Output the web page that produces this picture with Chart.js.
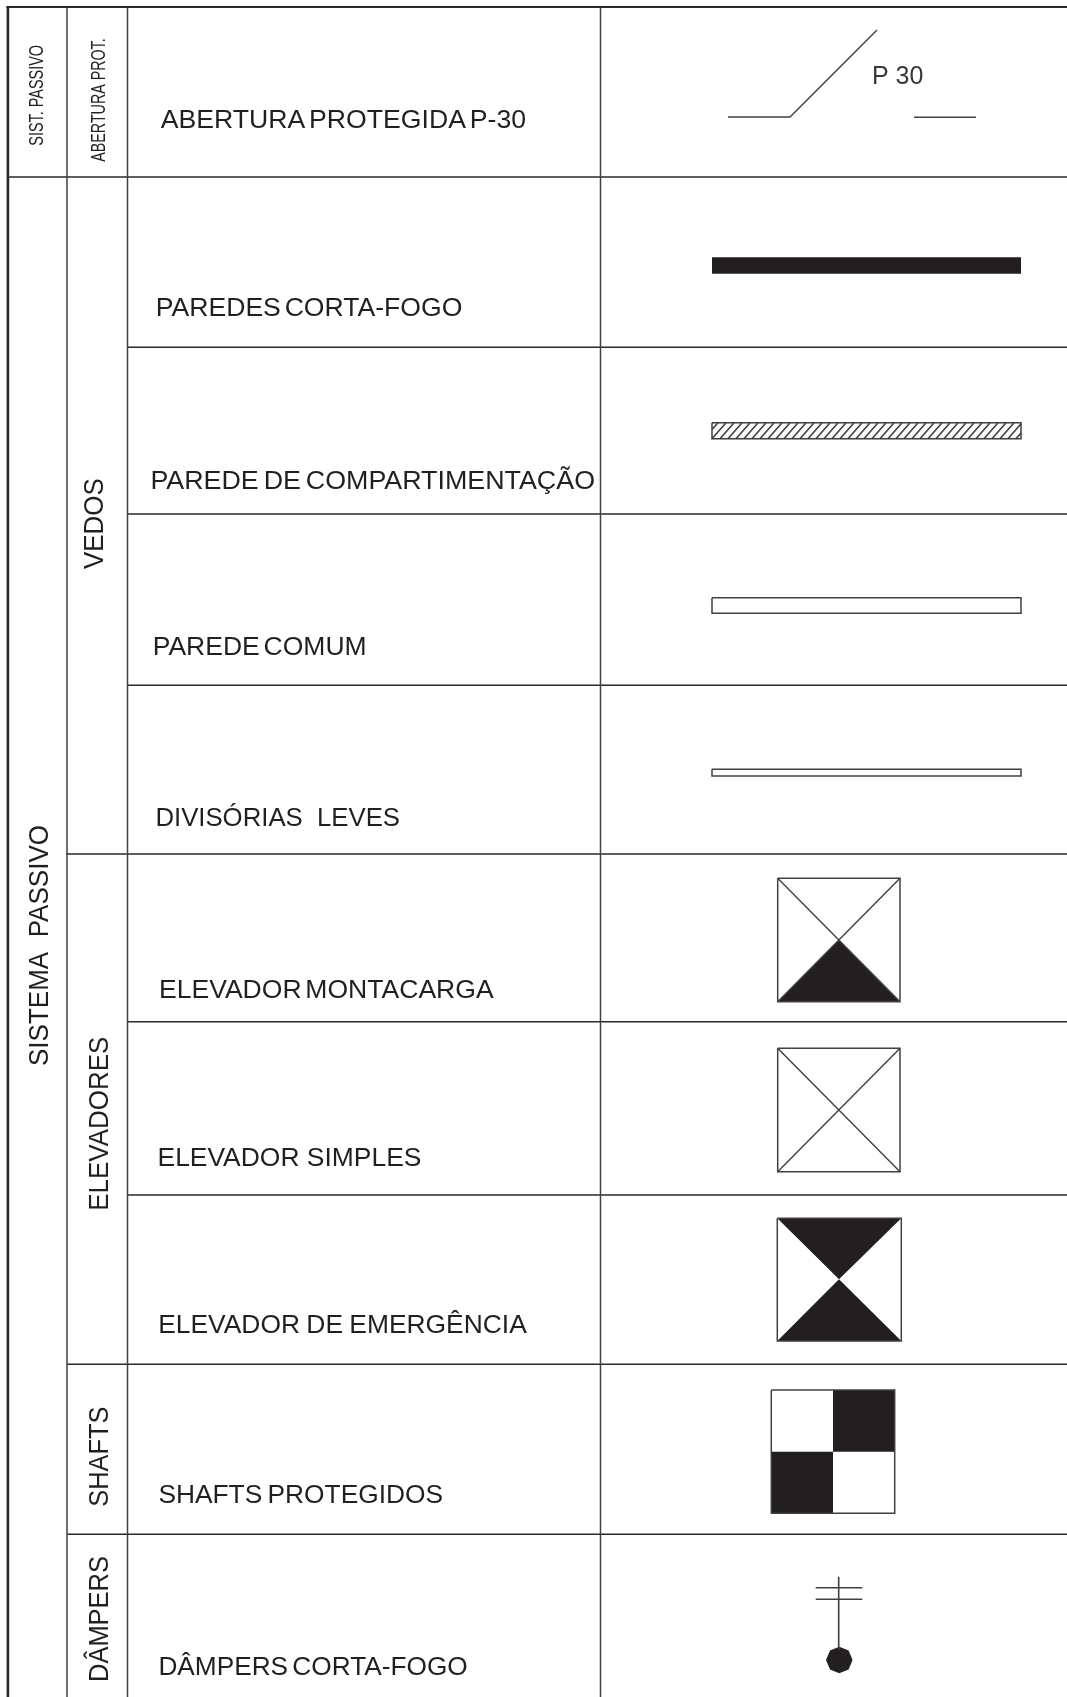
<!DOCTYPE html>
<html lang="pt">
<head>
<meta charset="utf-8">
<title>Sistema passivo</title>
<script src="https://cdn.jsdelivr.net/npm/chart.js@4/dist/chart.umd.min.js"></script>
<style>
  html,body{margin:0;padding:0;background:#fff;overflow:hidden}
  canvas{display:block}
</style>
</head>
<body>
<canvas id="chart" width="1067" height="1697"></canvas>
<script>
const rowLabels = ['ABERTURA PROTEGIDA P-30','PAREDES CORTA-FOGO','PAREDE DE COMPARTIMENTAÇÃO','PAREDE COMUM','DIVISÓRIAS  LEVES','ELEVADOR MONTACARGA','ELEVADOR SIMPLES','ELEVADOR DE EMERGÊNCIA','SHAFTS PROTEGIDOS','DÂMPERS CORTA-FOGO'];
const rowLabelStart = [160.7,155.8,150.4,152.7,155.4,159,157.5,158.2,158.4,158.4];
const rowLabelEnd = [526,462.3,595,366.6,400,493.6,421.4,526.8,443,467.7];
const rowLabelBase = [128.3,315.7,489.3,655,826,998.3,1166,1333.3,1502.7,1675.3];
const rowLabelGap = [-3.5,-3.5,-2.5,-3.5,0,-3.5,0,-1,-2,-3];

const sideLabels = ['SIST. PASSIVO','ABERTURA PROT.','SISTEMA  PASSIVO','VEDOS','ELEVADORES','SHAFTS','DÂMPERS'];
const sideLabelBase = [42.9,105.2,47.5,103.3,107.9,107.9,108.3];
const sideLabelBottom = [145.7,161.7,1066,569,1210.7,1506.7,1682];
const sideLabelTop = [45,38.3,825,478.3,1036.7,1406.7,1556];
const sideLabelSize = [20,20,28,28,28,28,28];

const columnLines = [7.9,67,127.5,600.5];
const topLine = 7;
const bottomEdge = 1697;
const rightEdge = 1067;
const rowLines = [177,347.3,514,685.3,854,1021.7,1195,1364.3,1534.3];
const rowLineStart = [7.9,127.5,127.5,127.5,66,127,127,67,67];

const p30Left = [[728,117],[790,117],[877,30]];
const p30Right = [[914,117.3],[976,117.3]];
const wallX = [712,1021];
const fireWallY = [257.3,273.7];
const compartWallY = [422.7,438.7];
const commonWallY = [597.7,613.3];
const lightWallY = [769.3,776];
const hatchFeet = [704,712,720,728,736,744,752,760,768,776,784,792,800,808,816,824,832,840,848,856,864,872,880,888,896,904,912,920,928,936,944,952,960,968,976,984,992,1000,1008,1016];

const cargoBox = [777.7,900,878.3,1001.7,839,940];
const simpleBox = [777.7,900,1048.3,1171.7,839,1110];
const emergencyBox = [777.3,901.3,1218.3,1341,839,1279.3];
const shaftBox = [771.3,894.7,1390,1513.3,833,1451.7];

const damperStem = [838.7,1576.7,1650];
const damperBars = [1587.7,1599.3];
const damperBarX = [815.7,862.3];
const damperTop = [[826,1660],[830,1650.6],[839.3,1646.7],[848.6,1650.6],[852.6,1660]];
const damperBottom = [[826,1660],[830,1669.4],[839.3,1673.3],[848.6,1669.4],[852.6,1660]];

const INK = '#231f20';
const LINE = '#2a2829';
const SYMBOL = '#413f40';

function pts(list){
  return list.map(p=>({x:p[0], y:p[1]}));
}

function stroke(list, width, color){
  return {data:pts(list), showLine:true, pointRadius:0, borderColor:color || LINE, borderWidth:width, fill:false, borderCapStyle:'butt'};
}

function solid(list, edge){
  return {data:pts(list), showLine:true, pointRadius:0, borderWidth:0, borderColor:INK, backgroundColor:INK, fill:{value:edge}};
}

function outline(x0, x1, y0, y1, width, color){
  return stroke([[x0,y0],[x1,y0],[x1,y1],[x0,y1],[x0,y0]], width, color);
}

function hatchLines(){
  const out = [];
  const rise = compartWallY[1]-compartWallY[0];
  hatchFeet.forEach(f=>{
    let x0 = f, y0 = compartWallY[1], x1 = f+14, y1 = compartWallY[0];
    if(x0 < wallX[0]){ y0 -= (wallX[0]-x0)*rise/14; x0 = wallX[0]; }
    if(x1 > wallX[1]){ y1 += (x1-wallX[1])*rise/14; x1 = wallX[1]; }
    out.push([x0,y0],[x1,y1],[NaN,NaN]);
  });
  return out;
}

function buildDatasets(){
  const sets = [];

  // table grid
  sets.push(stroke([[columnLines[0]-1.5,topLine],[rightEdge,topLine]], 2.2));
  columnLines.forEach((x,i)=>{
    sets.push(stroke([[x,topLine],[x,bottomEdge]], i===0 ? 2.6 : 1.5, i===0 ? LINE : '#444243'));
  });
  rowLines.forEach((y,i)=>{
    sets.push(stroke([[rowLineStart[i],y],[rightEdge,y]], 1.5));
  });

  // P 30 door
  sets.push(stroke(p30Left, 1.4, SYMBOL));
  sets.push(stroke(p30Right, 1.4, SYMBOL));

  // walls
  sets.push(solid([[wallX[0],fireWallY[0]],[wallX[1],fireWallY[0]]], fireWallY[1]));
  sets.push(stroke(hatchLines(), 1.6, SYMBOL));
  sets.push(outline(wallX[0],wallX[1],compartWallY[0],compartWallY[1],1.5,SYMBOL));
  sets.push(outline(wallX[0],wallX[1],commonWallY[0],commonWallY[1],1.5,SYMBOL));
  sets.push(outline(wallX[0],wallX[1],lightWallY[0],lightWallY[1],1.5,SYMBOL));

  // elevators
  const lift = b => outline(b[0],b[1],b[2],b[3],1.5,SYMBOL);
  const cross = b => [
    stroke([[b[0],b[2]],[b[1],b[3]]], 1.4, SYMBOL),
    stroke([[b[0],b[3]],[b[1],b[2]]], 1.4, SYMBOL)
  ];
  sets.push(lift(cargoBox), ...cross(cargoBox));
  sets.push(solid([[cargoBox[0],cargoBox[3]],[cargoBox[4],cargoBox[5]],[cargoBox[1],cargoBox[3]]], cargoBox[3]));

  sets.push(lift(simpleBox), ...cross(simpleBox));

  sets.push(lift(emergencyBox));
  sets.push(solid([[emergencyBox[0],emergencyBox[3]],[emergencyBox[4],emergencyBox[5]],[emergencyBox[1],emergencyBox[3]]], emergencyBox[3]));
  sets.push(solid([[emergencyBox[0],emergencyBox[2]],[emergencyBox[4],emergencyBox[5]],[emergencyBox[1],emergencyBox[2]]], emergencyBox[2]));

  // shaft
  sets.push(outline(shaftBox[0],shaftBox[1],shaftBox[2],shaftBox[3],1.5,SYMBOL));
  sets.push(solid([[shaftBox[4],shaftBox[2]],[shaftBox[1],shaftBox[2]]], shaftBox[5]));
  sets.push(solid([[shaftBox[0],shaftBox[5]],[shaftBox[4],shaftBox[5]]], shaftBox[3]));

  // damper
  sets.push(stroke([[damperStem[0],damperStem[1]],[damperStem[0],damperStem[2]]], 1.6, SYMBOL));
  damperBars.forEach(y=>sets.push(stroke([[damperBarX[0],y],[damperBarX[1],y]], 1.5, SYMBOL)));
  sets.push(solid(damperTop, 1660));
  sets.push(solid(damperBottom, 1660));

  return sets;
}

const sheetText = {
  id:'sheetText',
  afterDatasetsDraw(chart){
    const {ctx, scales} = chart;
    const fit = (text, size, len, gap)=>{
      ctx.font = `${size}px "Liberation Sans"`;
      ctx.wordSpacing = `${gap}px`;
      const w = ctx.measureText(text).width;
      ctx.scale(len/w, 1);
      ctx.fillText(text, 0, 0);
      ctx.wordSpacing = '0px';
    };
    ctx.save();
    ctx.fillStyle = INK;
    ctx.textAlign = 'left';
    ctx.textBaseline = 'alphabetic';
    rowLabels.forEach((t,i)=>{
      const x0 = scales.x.getPixelForValue(rowLabelStart[i]);
      const x1 = scales.x.getPixelForValue(rowLabelEnd[i]);
      ctx.save();
      ctx.translate(x0, scales.y.getPixelForValue(rowLabelBase[i]));
      fit(t, 26, x1-x0, rowLabelGap[i]);
      ctx.restore();
    });
    sideLabels.forEach((t,i)=>{
      const y0 = scales.y.getPixelForValue(sideLabelBottom[i]);
      const y1 = scales.y.getPixelForValue(sideLabelTop[i]);
      ctx.save();
      ctx.translate(scales.x.getPixelForValue(sideLabelBase[i]), y0);
      ctx.rotate(-Math.PI/2);
      fit(t, sideLabelSize[i], y0-y1, 0);
      ctx.restore();
    });
    // door tag
    ctx.fillStyle = '#3a3839';
    ctx.font = '25px "Liberation Sans"';
    ctx.fillText('P 30', scales.x.getPixelForValue(872), scales.y.getPixelForValue(84));
    ctx.restore();
  }
};

new Chart(document.getElementById('chart'), {
  type:'scatter',
  data:{datasets:buildDatasets()},
  plugins:[sheetText],
  options:{
    responsive:false,
    animation:false,
    events:[],
    layout:{padding:0},
    elements:{line:{tension:0}},
    plugins:{legend:{display:false}, tooltip:{enabled:false}, title:{display:false}},
    scales:{
      x:{type:'linear', min:0, max:1067, display:false},
      y:{type:'linear', min:0, max:1697, reverse:true, display:false}
    }
  }
});
</script>
</body>
</html>
